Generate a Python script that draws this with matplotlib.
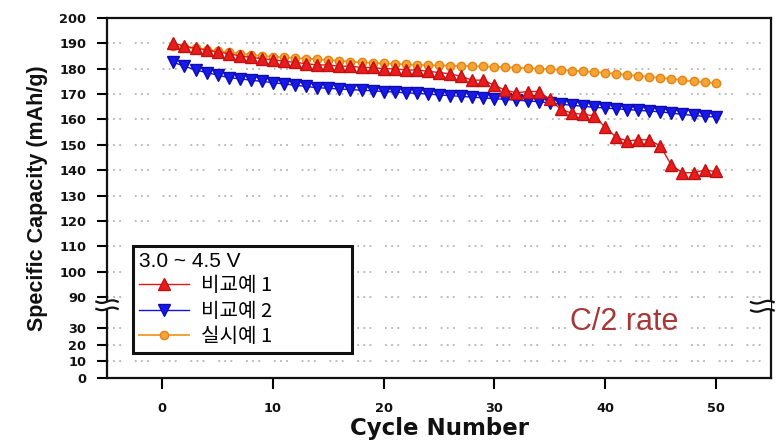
import numpy as np
import matplotlib
matplotlib.use("Agg")
import matplotlib.pyplot as plt
from matplotlib.patches import Rectangle

# ---------------- data ----------------
cycles = list(range(1, 51))

comp1 = [190, 189, 188, 187.5, 186.5, 186, 185, 184.5, 184, 183.5,
         183, 182.5, 182, 181.5, 181.5, 181, 181, 180.5, 180.5, 180,
         180, 179.5, 179.5, 179, 178.5, 178, 177, 175.5, 175.5, 173.5,
         171.5, 170.5, 171, 171, 168, 164, 162.5, 162, 161.5, 157,
         153, 151.5, 152, 152, 149.5, 142, 139, 139, 140, 139.5]

comp2 = [182.5, 181, 179.5, 178.5, 177.5, 176.5, 176, 175.5, 175, 174.5,
         174, 173.5, 173, 172.5, 172.3, 172, 171.8, 171.5, 171.3, 171,
         170.8, 170.5, 170.3, 170, 169.7, 169.4, 169.1, 168.8, 168.5, 168.2,
         167.9, 167.6, 167.3, 167, 166.5, 166, 165.6, 165.2, 164.8, 164.5,
         164.2, 163.9, 163.6, 163.3, 163, 162.5, 162, 161.6, 161.2, 161]

ex1 = [189, 188.5, 188, 187.5, 187, 186.5, 186, 185.5, 185, 184.8,
       184.5, 184.2, 184, 183.7, 183.4, 183.1, 182.8, 182.5, 182.3, 182.1,
       181.9, 181.7, 181.5, 181.4, 181.3, 181.2, 181.1, 181, 180.9, 180.8,
       180.6, 180.4, 180.2, 180, 179.8, 179.6, 179.3, 179, 178.7, 178.4,
       178, 177.6, 177.2, 176.8, 176.4, 176, 175.5, 175, 174.7, 174.3]

series_labels = ["비교예 1", "비교예 2", "실시예 1"]
legend_title = "3.0 ~ 4.5 V"
y_ticks = [0, 10, 20, 30, 90, 100, 110, 120, 130, 140, 150, 160, 170, 180, 190, 200]
x_ticks = [0, 10, 20, 30, 40, 50]

# ---------------- broken-axis scale ----------------
_v = np.array([0.0, 30.0, 90.0, 200.0])
_p = np.array([0.0, 50.0, 81.0, 360.0])

def fwd(v):
    return np.interp(v, _v, _p)

def inv(p):
    return np.interp(p, _p, _v)

fig = plt.figure(figsize=(7.79, 4.46), dpi=100)
ax = fig.add_axes([107 / 779, 68 / 446, 664 / 779, 360 / 446])
ax.set_yscale("function", functions=(fwd, inv))

l3, = ax.plot(cycles, ex1, color="#f09a28", marker="o", ms=6, lw=1.3,
              mec="#e48418", mfc="#f5a535", label=series_labels[2], zorder=3)
l2, = ax.plot(cycles, comp2, color="#1414dc", marker="v", ms=8, lw=1,
              mec="#0c0cb0", mfc="#1818e8", label=series_labels[1], zorder=4)
l1, = ax.plot(cycles, comp1, color="#e01818", marker="^", ms=8, lw=1,
              mec="#c01010", mfc="#e81c1c", label=series_labels[0], zorder=5)

ax.set_xlim(-5, 55)
ax.set_ylim(0, 200)
ax.set_xticks(x_ticks)
ax.set_yticks(y_ticks)
ax.yaxis.set_minor_locator(matplotlib.ticker.NullLocator())
ax.xaxis.set_minor_locator(matplotlib.ticker.NullLocator())
ax.set_yticklabels([str(t) for t in y_ticks])
ax.set_xticklabels([str(t) for t in x_ticks])

for lab in ax.get_xticklabels() + ax.get_yticklabels():
    lab.set_fontfamily("DejaVu Sans")
    lab.set_fontweight("bold")
    lab.set_fontsize(9.3)
    lab.set_color("#111111")

ax.tick_params(axis="y", direction="out", length=7, width=1.5, pad=8)
ax.tick_params(axis="x", direction="out", length=8, width=1.5, pad=9)

for s in ax.spines.values():
    s.set_linewidth(1.6)
    s.set_color("#111111")

ax.yaxis.grid(True, linestyle=(0, (1.2, 2.8, 1.2, 2.8, 1.2, 9)),
              color="#a8a8a8", linewidth=1.1)
ax.set_axisbelow(True)

ax.set_xlabel("Cycle Number", fontsize=16.5, fontweight="bold",
              family="DejaVu Sans", labelpad=2, color="#111111")
ax.set_ylabel("Specific Capacity (mAh/g)", fontsize=15.5, fontweight="bold",
              family="Liberation Sans", labelpad=8, color="#111111")

# break marks
ytr = ax.get_yaxis_transform()
def brk(x0, x1, ylo, yhi):
    ax.add_patch(Rectangle((x0 + 0.004, ylo), (x1 - x0) - 0.008, yhi - ylo,
                           transform=ytr, facecolor="white", edgecolor="none",
                           clip_on=False, zorder=6))
    xs = np.linspace(x0, x1, 30)
    wave = 2.5 * np.sin((xs - x0) / (x1 - x0) * 2 * np.pi)
    for yb in (ylo, yhi):
        ax.plot(xs, yb - wave, color="#111111", lw=1.6, transform=ytr,
                clip_on=False, zorder=7)

brk(-0.016, 0.016, 67, 81)
brk(0.970, 1.004, 64, 80)

leg_h = 0.30
leg = ax.legend(handles=[l1, l2, l3], labels=series_labels,
                loc="upper left", bbox_to_anchor=(0.039, 0.367 - leg_h, 0.33, leg_h),
                mode="expand", borderaxespad=0, title=legend_title, alignment="left",
                prop={"family": ["Noto Sans CJK KR", "DejaVu Sans"], "size": 14.5},
                title_fontproperties={"family": ["Liberation Sans", "DejaVu Sans"], "size": 15},
                frameon=True, fancybox=False, edgecolor="#111111", framealpha=1,
                handlelength=2.5, handletextpad=0.6, labelspacing=0.22,
                borderpad=0.3)
leg.get_frame().set_linewidth(2.2)
leg.set_zorder(8)

ax.text(0.697, 0.133, "C/2 rate", transform=ax.transAxes, fontsize=22,
        family="Liberation Sans", color="#a83838", va="baseline", ha="left")

fig.savefig("out.png", dpi=100)
